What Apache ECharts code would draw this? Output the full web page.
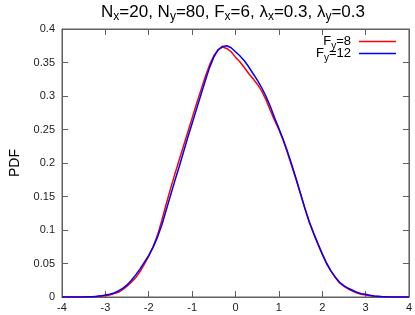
<!DOCTYPE html>
<html><head><meta charset="utf-8">
<script src="https://cdn.jsdelivr.net/npm/echarts@6/dist/echarts.min.js"></script>
<style>html,body{margin:0;padding:0;background:#fff}#c{width:415px;height:315px}</style>
</head><body><div id="c"></div>
<script>
const xs = [-4.0,-3.9,-3.8,-3.7,-3.6,-3.5,-3.4,-3.3,-3.2,-3.1,-3.0,-2.9,-2.8,-2.7,-2.6,-2.5,-2.4,-2.3,-2.2,-2.1,-2.0,-1.9,-1.8,-1.7,-1.6,-1.5,-1.4,-1.3,-1.2,-1.1,-1.0,-0.9,-0.8,-0.7,-0.6,-0.5,-0.4,-0.3,-0.2,-0.1,0.0,0.1,0.2,0.3,0.4,0.5,0.6,0.7,0.8,0.9,1.0,1.1,1.2,1.3,1.4,1.5,1.6,1.7,1.8,1.9,2.0,2.1,2.2,2.3,2.4,2.5,2.6,2.7,2.8,2.9,3.0,3.1,3.2,3.3,3.4,3.5,3.6,3.7,3.8,3.9,4.0];
const pdfFy8 = [0,0,0,0,0,0,0.0002,0.0004,0.0007,0.0012,0.002,0.003,0.005,0.007,0.011,0.016,0.022,0.029,0.038,0.049,0.061,0.075,0.092,0.114,0.138,0.161,0.183,0.204,0.225,0.246,0.267,0.288,0.308,0.328,0.346,0.360,0.369,0.373,0.371,0.366,0.358,0.351,0.343,0.334,0.326,0.318,0.308,0.295,0.279,0.264,0.250,0.234,0.215,0.195,0.175,0.154,0.133,0.113,0.096,0.080,0.065,0.051,0.039,0.029,0.021,0.016,0.012,0.009,0.006,0.004,0.003,0.002,0.0012,0.0007,0.0004,0.0002,0,0,0,0,0];
const pdfFy12 = [0,0,0,0,0,0,0.0003,0.0005,0.001,0.0017,0.003,0.004,0.006,0.009,0.013,0.018,0.025,0.033,0.042,0.052,0.062,0.074,0.089,0.107,0.129,0.151,0.173,0.194,0.216,0.238,0.259,0.280,0.301,0.322,0.342,0.358,0.369,0.374,0.375,0.372,0.366,0.360,0.353,0.344,0.334,0.324,0.313,0.300,0.285,0.268,0.252,0.235,0.217,0.197,0.176,0.154,0.132,0.112,0.095,0.079,0.064,0.050,0.039,0.030,0.022,0.017,0.013,0.010,0.007,0.005,0.004,0.0025,0.0015,0.001,0.0005,0.0002,0,0,0,0,0];
const xTicks = [-4,-3,-2,-1,0,1,2,3,4];
const yTicks = [0,0.05,0.1,0.15,0.2,0.25,0.3,0.35,0.4];
const seriesNames = ['Fy=8','Fy=12'];
const legendLabels = {'Fy=8':'F{s|y}=8','Fy=12':'F{s|y}=12'};

const FONT = 'Liberation Sans';
const axisCol = '#606060';
const chart = echarts.init(document.getElementById('c'), null, {renderer:'canvas'});
const pair = arr => xs.map((x,i)=>[x,arr[i]]);
const tickCommon = {show:true, inside:true, length:6, lineStyle:{color:axisCol,width:1}};
chart.setOption({
  animation:false,
  title:{
    text:'N{s|x}=20, N{s|y}=80, F{s|x}=6, λ{s|x}=0.3, λ{s|y}=0.3',
    left:228, top:-4, textAlign:'center',
    textStyle:{fontFamily:FONT,fontSize:17,fontWeight:'normal',color:'#000',
      rich:{s:{fontFamily:FONT,fontSize:12,color:'#000',padding:[10,0,0,0]}}}
  },
  legend:{
    orient:'vertical', right:14, top:30, align:'right', itemGap:-4,
    itemWidth:37, itemHeight:1.5, icon:'rect',
    data:seriesNames,
    formatter:n=>legendLabels[n],
    textStyle:{fontFamily:FONT,fontSize:13,color:'#000',padding:[0,3,0,0],
      rich:{s:{fontFamily:FONT,fontSize:10,color:'#000',padding:[9,0,0,0]}}}
  },
  grid:{left:59,right:4,top:29,bottom:18,show:true,borderColor:axisCol,borderWidth:1},
  xAxis:[{
    type:'value',min:xTicks[0],max:xTicks[xTicks.length-1],interval:1,
    axisLine:{show:true,onZero:false,lineStyle:{color:axisCol}},
    axisTick:tickCommon,splitLine:{show:false},
    axisLabel:{fontFamily:FONT,fontSize:11,color:'#222',margin:5}
  },{
    type:'value',position:'top',min:xTicks[0],max:xTicks[xTicks.length-1],interval:1,
    axisLine:{show:true,onZero:false,lineStyle:{color:axisCol}},
    axisTick:tickCommon,axisLabel:{show:false},splitLine:{show:false}
  }],
  yAxis:[{
    type:'value',min:yTicks[0],max:yTicks[yTicks.length-1],interval:0.05,
    name:'PDF',nameLocation:'middle',nameGap:40,nameRotate:90,
    nameTextStyle:{fontFamily:FONT,fontSize:14,color:'#000'},
    axisLine:{show:true,onZero:false,lineStyle:{color:axisCol}},
    axisTick:tickCommon,splitLine:{show:false},
    axisLabel:{fontFamily:FONT,fontSize:11,color:'#222',margin:7}
  },{
    type:'value',position:'right',min:yTicks[0],max:yTicks[yTicks.length-1],interval:0.05,
    axisLine:{show:true,onZero:false,lineStyle:{color:axisCol}},
    axisTick:tickCommon,axisLabel:{show:false},splitLine:{show:false}
  }],
  series:[
    {name:seriesNames[0],type:'line',data:pair(pdfFy8),showSymbol:false,symbol:'none',smooth:false,
     lineStyle:{color:'#ff0000',width:1.5},itemStyle:{color:'#ff0000'},z:2},
    {name:seriesNames[1],type:'line',data:pair(pdfFy12),showSymbol:false,symbol:'none',smooth:false,
     lineStyle:{color:'#0000ff',width:1.5},itemStyle:{color:'#0000ff'},z:3}
  ]
});
</script></body></html>
